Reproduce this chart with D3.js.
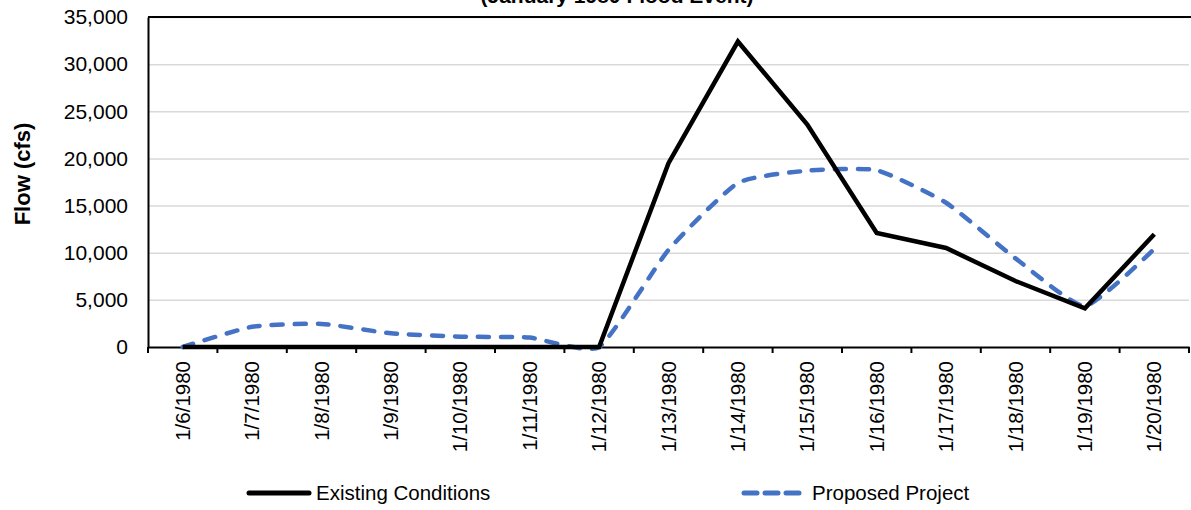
<!DOCTYPE html>
<html>
<head>
<meta charset="utf-8">
<script src="https://cdn.jsdelivr.net/npm/d3@7.9.0/dist/d3.min.js"></script>
<style>
  body { margin: 0; background: #fff; }
  svg { display: block; font-family: "Liberation Sans", Arial, sans-serif; }
</style>
</head>
<body>
<svg id="chart" width="1191" height="510"></svg>
<script>
// Data
const dates = ['1/6/1980', '1/7/1980', '1/8/1980', '1/9/1980', '1/10/1980', '1/11/1980', '1/12/1980',
  '1/13/1980', '1/14/1980', '1/15/1980', '1/16/1980', '1/17/1980', '1/18/1980', '1/19/1980', '1/20/1980'];
const existing = [0, 0, 0, 0, 0, 0, 0, 19500, 32400, 23600, 12100, 10500, 7000, 4100, 11950];
const proposed = [0, 2150, 2450, 1450, 1100, 1000, 0, 10300, 17400, 18700, 18750, 15300, 9400, 4350, 10400];
const yTicks = [0, 5000, 10000, 15000, 20000, 25000, 30000, 35000];

const svg = d3.select('#chart');
const plotLeft = 148, plotRight = 1189, plotTop = 17, plotBottom = 347;

const x = d3.scaleBand().domain(dates).range([plotLeft, plotRight]).padding(0);
const y = d3.scaleLinear().domain([0, 35000]).range([plotBottom, plotTop]);
const cx = d => x(d) + x.bandwidth() / 2;

// title (cut off at top of the picture, as in the reference)
svg.append('text')
  .attr('x', 617).attr('y', 3)
  .attr('text-anchor', 'middle')
  .attr('font-weight', 'bold')
  .attr('font-size', 21)
  .text('(January 1980 Flood Event)');

// gridlines
svg.append('g')
  .attr('transform', `translate(${plotLeft},0)`)
  .call(d3.axisLeft(y).tickValues(yTicks.slice(1)).tickSize(-(plotRight - plotLeft)).tickFormat(''))
  .call(g => g.select('.domain').remove())
  .selectAll('line').attr('stroke', '#d9d9d9').attr('stroke-width', 1.5);

// top border
svg.append('line')
  .attr('x1', plotLeft).attr('x2', plotRight + 5).attr('y1', plotTop).attr('y2', plotTop)
  .attr('stroke', '#000').attr('stroke-width', 2);

// y axis
const yAxis = svg.append('g')
  .attr('transform', `translate(${plotLeft},0)`)
  .call(d3.axisLeft(y).tickValues(yTicks).tickSize(0).tickPadding(20).tickFormat(d3.format(',')));
yAxis.select('.domain').attr('stroke', '#000').attr('stroke-width', 2);
yAxis.selectAll('text').attr('font-size', 21).attr('fill', '#000').attr('font-family', null);

svg.append('text')
  .attr('transform', `translate(30,174) rotate(-90)`)
  .attr('text-anchor', 'middle')
  .attr('font-weight', 'bold')
  .attr('font-size', 22)
  .text('Flow (cfs)');

// x axis
const xAxis = svg.append('g')
  .attr('transform', `translate(0,${plotBottom})`)
  .call(d3.axisBottom(x).tickSize(0).tickPadding(0));
xAxis.select('.domain').attr('stroke', '#000').attr('stroke-width', 2);
xAxis.selectAll('.tick text')
  .attr('font-size', 20.5).attr('fill', '#000').attr('font-family', null)
  .attr('transform', 'rotate(-90)')
  .attr('text-anchor', 'end')
  .attr('dy', '0.35em')
  .attr('x', -14).attr('y', 0);

// tick marks at band boundaries
svg.append('g')
  .selectAll('line')
  .data(dates.concat(['end']))
  .join('line')
  .attr('x1', d => d === 'end' ? plotRight : x(d))
  .attr('x2', d => d === 'end' ? plotRight : x(d))
  .attr('y1', plotBottom).attr('y2', plotBottom + 6)
  .attr('stroke', '#000').attr('stroke-width', 2);

// series
const lineExisting = d3.line().x((d, i) => cx(dates[i])).y(d => y(d));
const lineProposed = d3.line().x((d, i) => cx(dates[i])).y(d => y(d)).curve(d3.curveCardinal.tension(0.5));

svg.append('path')
  .datum(proposed)
  .attr('d', lineProposed)
  .attr('fill', 'none')
  .attr('stroke', '#4472c4')
  .attr('stroke-width', 4.5)
  .attr('stroke-linecap', 'round')
  .attr('stroke-dasharray', '11,12');

svg.append('path')
  .datum(existing)
  .attr('d', lineExisting)
  .attr('fill', 'none')
  .attr('stroke', '#000')
  .attr('stroke-width', 4.5)
  .attr('stroke-linejoin', 'miter');

// legend
const legend = svg.append('g');
legend.append('line')
  .attr('x1', 249).attr('x2', 309).attr('y1', 493).attr('y2', 493)
  .attr('stroke', '#000').attr('stroke-width', 5).attr('stroke-linecap', 'round');
legend.append('text')
  .attr('x', 316).attr('y', 493).attr('dy', '0.35em')
  .attr('font-size', 20.5)
  .text('Existing Conditions');
legend.append('line')
  .attr('x1', 744).attr('x2', 799).attr('y1', 493).attr('y2', 493)
  .attr('stroke', '#4472c4').attr('stroke-width', 5).attr('stroke-linecap', 'round')
  .attr('stroke-dasharray', '13,8');
legend.append('text')
  .attr('x', 812).attr('y', 493).attr('dy', '0.35em')
  .attr('font-size', 20.5)
  .text('Proposed Project');
</script>
</body>
</html>
